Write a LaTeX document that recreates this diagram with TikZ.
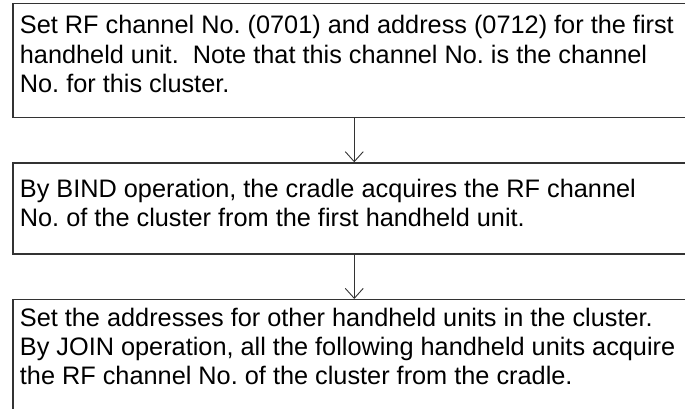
\documentclass[tikz,border=0pt]{standalone}
\usepackage{fontspec}
\setmainfont{Liberation Sans}
\usetikzlibrary{arrows.meta}
\begin{document}
\frenchspacing
\begin{tikzpicture}[x=1pt, y=-1pt,
  stepbox/.style={draw=black!80, line width=1.2pt, anchor=north west, minimum width=682.7pt, inner sep=0pt},
  steptext/.style={anchor=base west, align=left, inner sep=0pt, font=\fontsize{25.3}{29.2}\selectfont},
  flow/.style={draw=black!80, line width=0.9pt, -{Straight Barb[length=10pt,width=18pt]}}]
  \useasboundingbox (0,0) rectangle (685,409);
  \clip (0,0) rectangle (685,409);
  \node[stepbox, minimum height=113.4pt] (set) at (12.3,3.3) {};
  \node[stepbox, minimum height=91pt] (bind) at (12.3,162.3) {};
  \node[stepbox, minimum height=130pt] (join) at (12.3,299) {};
  \node[steptext] (settext) at (19.7,92.4) {Set RF channel No. (0701) and address (0712) for the first\\handheld unit.\ \ Note that this channel No. is the channel\\No. for this cluster.};
  \node[steptext] (bindtext) at (19.7,226.2) {By BIND operation, the cradle acquires the RF channel\\No. of the cluster from the first handheld unit.};
  \node[steptext] (jointext) at (19.7,384.4) {Set the addresses for other handheld units in the cluster.\\By JOIN operation, all the following handheld units acquire\\the RF channel No. of the cluster from the cradle.};
  \draw[flow] (set.south) -- (bind.north);
  \draw[flow] (bind.south) -- (join.north);
\end{tikzpicture}
\end{document}
